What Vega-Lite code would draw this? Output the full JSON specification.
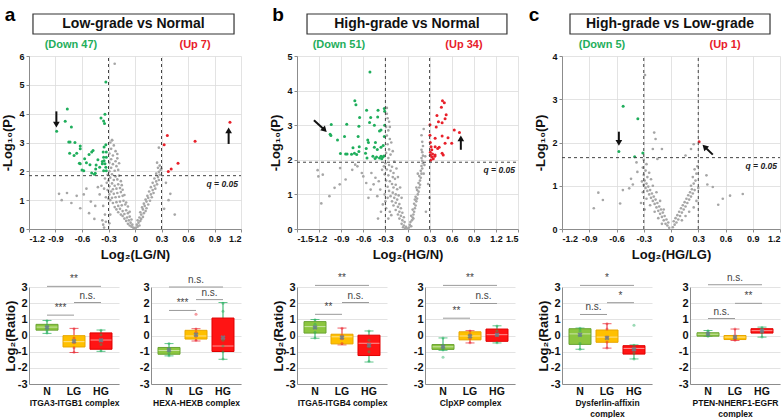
{
"$schema":"https://vega.github.io/schema/vega-lite/v6.json",
"background":"white",
"padding":{"left":1,"top":5,"right":0,"bottom":0},
"spacing":27,
"config":{"view":{"stroke":null},"font":"Liberation Sans",
"axis":{"labelFont":"Liberation Sans","titleFont":"Liberation Sans","labelFontWeight":"bold","titleFontWeight":"bold","labelColor":"#111","titleColor":"#111","domainColor":"#8c8c8c","tickColor":"#8c8c8c","gridColor":"#dcdcdc","gridWidth":0.8,"labelOverlap":false,"labelBound":false},
"text":{"font":"Liberation Sans"}},
"datasets":{
"thr":[{"x":-0.3},{"x":0.3}],
"ga":[{"x":-0.01,"y":0.03},{"x":-0.02,"y":0.05},{"x":-0.04,"y":0.08},{"x":-0.06,"y":0.12},{"x":-0.03,"y":0.15},{"x":-0.08,"y":0.18},{"x":-0.05,"y":0.22},{"x":-0.1,"y":0.28},{"x":-0.07,"y":0.3},{"x":-0.04,"y":0.33},{"x":-0.12,"y":0.36},{"x":-0.09,"y":0.4},{"x":-0.06,"y":0.43},{"x":-0.14,"y":0.45},{"x":-0.16,"y":0.5},{"x":-0.12,"y":0.52},{"x":-0.08,"y":0.55},{"x":-0.19,"y":0.58},{"x":-0.14,"y":0.62},{"x":-0.1,"y":0.65},{"x":-0.06,"y":0.6},{"x":-0.21,"y":0.68},{"x":-0.17,"y":0.7},{"x":-0.23,"y":0.76},{"x":-0.19,"y":0.8},{"x":-0.15,"y":0.82},{"x":-0.11,"y":0.85},{"x":-0.08,"y":0.78},{"x":-0.25,"y":0.9},{"x":-0.21,"y":0.93},{"x":-0.17,"y":0.95},{"x":-0.13,"y":0.98},{"x":-0.28,"y":1.0},{"x":-0.1,"y":0.92},{"x":-0.3,"y":1.05},{"x":-0.26,"y":1.08},{"x":-0.22,"y":1.1},{"x":-0.18,"y":1.12},{"x":-0.14,"y":1.15},{"x":-0.29,"y":1.2},{"x":-0.24,"y":1.22},{"x":-0.2,"y":1.25},{"x":-0.16,"y":1.28},{"x":-0.12,"y":1.18},{"x":-0.27,"y":1.3},{"x":-0.31,"y":1.35},{"x":-0.25,"y":1.38},{"x":-0.21,"y":1.4},{"x":-0.17,"y":1.42},{"x":-0.14,"y":1.36},{"x":-0.29,"y":1.48},{"x":-0.23,"y":1.5},{"x":-0.19,"y":1.55},{"x":-0.15,"y":1.52},{"x":-0.26,"y":1.58},{"x":-0.32,"y":1.6},{"x":-0.3,"y":1.68},{"x":-0.24,"y":1.7},{"x":-0.2,"y":1.72},{"x":-0.16,"y":1.66},{"x":-0.28,"y":1.78},{"x":-0.22,"y":1.82},{"x":-0.18,"y":1.85},{"x":-0.26,"y":1.9},{"x":-0.31,"y":1.88},{"x":-0.29,"y":2.0},{"x":-0.23,"y":2.02},{"x":-0.19,"y":2.05},{"x":-0.27,"y":2.12},{"x":-0.21,"y":2.18},{"x":-0.25,"y":2.25},{"x":-0.29,"y":2.3},{"x":-0.22,"y":2.35},{"x":-0.18,"y":2.28},{"x":-0.27,"y":2.42},{"x":-0.2,"y":2.45},{"x":-0.25,"y":2.55},{"x":-0.29,"y":2.62},{"x":-0.22,"y":2.7},{"x":-0.27,"y":2.78},{"x":-0.24,"y":2.9},{"x":-0.28,"y":3.0},{"x":-0.26,"y":3.08},{"x":-0.2,"y":2.6},{"x":-0.34,"y":1.75},{"x":-0.35,"y":1.4},{"x":-0.33,"y":1.1},{"x":-0.36,"y":0.8},{"x":-0.34,"y":0.5},{"x":-0.33,"y":0.25},{"x":-0.38,"y":1.5},{"x":-0.4,"y":1.2},{"x":-0.37,"y":0.3},{"x":-0.36,"y":0.15},{"x":0.01,"y":0.04},{"x":0.03,"y":0.08},{"x":0.02,"y":0.15},{"x":0.05,"y":0.12},{"x":0.04,"y":0.22},{"x":0.06,"y":0.28},{"x":0.03,"y":0.3},{"x":0.07,"y":0.35},{"x":0.05,"y":0.4},{"x":0.09,"y":0.42},{"x":0.07,"y":0.5},{"x":0.1,"y":0.55},{"x":0.06,"y":0.58},{"x":0.12,"y":0.62},{"x":0.09,"y":0.68},{"x":0.08,"y":0.75},{"x":0.13,"y":0.72},{"x":0.11,"y":0.8},{"x":0.15,"y":0.85},{"x":0.1,"y":0.88},{"x":0.13,"y":0.95},{"x":0.17,"y":0.98},{"x":0.12,"y":1.02},{"x":0.15,"y":1.08},{"x":0.19,"y":1.1},{"x":0.14,"y":1.15},{"x":0.18,"y":1.2},{"x":0.21,"y":1.25},{"x":0.16,"y":1.3},{"x":0.2,"y":1.35},{"x":0.23,"y":1.4},{"x":0.18,"y":1.45},{"x":0.22,"y":1.5},{"x":0.25,"y":1.55},{"x":0.2,"y":1.6},{"x":0.24,"y":1.65},{"x":0.27,"y":1.7},{"x":0.22,"y":1.75},{"x":0.26,"y":1.8},{"x":0.28,"y":1.88},{"x":0.24,"y":1.92},{"x":0.27,"y":1.98},{"x":0.29,"y":2.05},{"x":0.26,"y":2.12},{"x":0.28,"y":2.2},{"x":0.25,"y":2.3},{"x":0.27,"y":2.82},{"x":0.3,"y":2.1},{"x":-0.23,"y":5.73},{"x":-0.26,"y":3.08},{"x":-0.86,"y":1.22},{"x":-0.83,"y":1.0},{"x":-0.77,"y":1.25},{"x":-0.72,"y":0.9},{"x":-0.66,"y":1.15},{"x":-0.58,"y":1.2},{"x":-0.5,"y":0.95},{"x":-0.52,"y":0.55},{"x":-0.45,"y":0.8},{"x":-0.62,"y":0.72},{"x":-0.42,"y":1.45},{"x":-0.46,"y":0.35},{"x":-0.55,"y":1.4},{"x":0.4,"y":1.22},{"x":0.38,"y":1.0},{"x":0.45,"y":0.5},{"x":0.35,"y":1.6},{"x":0.33,"y":0.7},{"x":-0.35,"y":0.05},{"x":-0.29,"y":0.2},{"x":-0.28,"y":0.5}],
"ca":[{"x":-0.887,"y":3.39,"c":"d"},{"x":-0.766,"y":4.16,"c":"d"},{"x":-0.79,"y":3.74,"c":"d"},{"x":-0.72,"y":3.54,"c":"d"},{"x":-0.75,"y":3.02,"c":"d"},{"x":-0.735,"y":3.02,"c":"d"},{"x":-0.74,"y":2.63,"c":"d"},{"x":-0.69,"y":2.55,"c":"d"},{"x":-0.66,"y":2.63,"c":"d"},{"x":-0.62,"y":2.88,"c":"d"},{"x":-0.62,"y":2.78,"c":"d"},{"x":-0.63,"y":2.28,"c":"d"},{"x":-0.62,"y":2.26,"c":"d"},{"x":-0.57,"y":2.44,"c":"d"},{"x":-0.58,"y":2.02,"c":"d"},{"x":-0.52,"y":2.58,"c":"d"},{"x":-0.49,"y":2.67,"c":"d"},{"x":-0.475,"y":2.72,"c":"d"},{"x":-0.51,"y":2.23,"c":"d"},{"x":-0.49,"y":1.94,"c":"d"},{"x":-0.46,"y":1.9,"c":"d"},{"x":-0.45,"y":1.93,"c":"d"},{"x":-0.445,"y":2.08,"c":"d"},{"x":-0.44,"y":2.22,"c":"d"},{"x":-0.42,"y":2.4,"c":"d"},{"x":-0.4,"y":2.14,"c":"d"},{"x":-0.385,"y":3.85,"c":"d"},{"x":-0.355,"y":3.75,"c":"d"},{"x":-0.34,"y":3.98,"c":"d"},{"x":-0.33,"y":5.1,"c":"d"},{"x":-0.345,"y":3.66,"c":"d"},{"x":-0.36,"y":2.67,"c":"d"},{"x":-0.355,"y":2.49,"c":"d"},{"x":-0.35,"y":2.37,"c":"d"},{"x":-0.34,"y":2.26,"c":"d"},{"x":-0.33,"y":2.92,"c":"d"},{"x":-0.37,"y":2.26,"c":"d"},{"x":-0.355,"y":2.02,"c":"d"},{"x":-0.33,"y":2.14,"c":"d"},{"x":-0.325,"y":2.02,"c":"d"},{"x":-0.37,"y":2.34,"c":"d"},{"x":-0.325,"y":2.49,"c":"d"},{"x":-0.325,"y":2.67,"c":"d"},{"x":-0.35,"y":2.84,"c":"d"},{"x":-0.6,"y":2.05,"c":"d"},{"x":-0.55,"y":2.3,"c":"d"},{"x":-0.68,"y":3.0,"c":"d"},{"x":0.33,"y":2.92,"c":"u"},{"x":0.366,"y":3.24,"c":"u"},{"x":0.377,"y":1.99,"c":"u"},{"x":0.41,"y":2.08,"c":"u"},{"x":0.487,"y":2.28,"c":"u"},{"x":0.68,"y":3.04,"c":"u"},{"x":1.075,"y":3.7,"c":"u"}],
"an_a":[{"k":"box","x":-1.155,"x2":1.121,"y":6.763,"y2":7.457},{"k":"title","x":-0.017,"y":7.11,"t":"Low-grade vs Normal"},{"k":"lab","c":"d","x":-0.725,"y":6.38,"t":"(Down 47)"},{"k":"lab","c":"u","x":0.68,"y":6.38,"t":"(Up 7)"},{"k":"letter","x":-1.415,"y":7.42,"t":"a"},{"k":"q","y":1.85}],
"ar_a":[{"x":-0.89,"y":4.08,"x2":-0.89,"y2":3.62,"d":"down"},{"x":1.06,"y":2.95,"x2":1.06,"y2":3.42,"d":"up"}],
"gb":[{"x":-0.28,"y":3.33},{"x":-0.27,"y":3.2},{"x":-0.25,"y":3.1},{"x":-0.29,"y":2.95},{"x":-0.26,"y":2.85},{"x":-0.28,"y":2.7},{"x":-0.24,"y":2.6},{"x":-0.27,"y":2.45},{"x":-0.25,"y":2.3},{"x":-0.29,"y":2.2},{"x":-0.23,"y":2.15},{"x":-0.26,"y":2.05},{"x":-0.3,"y":1.9},{"x":-0.25,"y":1.85},{"x":-0.21,"y":1.8},{"x":-0.28,"y":1.72},{"x":-0.23,"y":1.68},{"x":-0.19,"y":1.62},{"x":-0.31,"y":1.58},{"x":-0.26,"y":1.55},{"x":-0.2,"y":1.5},{"x":-0.17,"y":1.45},{"x":-0.29,"y":1.4},{"x":-0.24,"y":1.38},{"x":-0.21,"y":1.3},{"x":-0.16,"y":1.28},{"x":-0.27,"y":1.22},{"x":-0.19,"y":1.2},{"x":-0.14,"y":1.15},{"x":-0.25,"y":1.1},{"x":-0.2,"y":1.05},{"x":-0.16,"y":1.0},{"x":-0.12,"y":0.97},{"x":-0.23,"y":0.95},{"x":-0.18,"y":0.9},{"x":-0.14,"y":0.85},{"x":-0.21,"y":0.8},{"x":-0.16,"y":0.76},{"x":-0.11,"y":0.72},{"x":-0.19,"y":0.68},{"x":-0.13,"y":0.64},{"x":-0.09,"y":0.6},{"x":-0.16,"y":0.55},{"x":-0.11,"y":0.5},{"x":-0.07,"y":0.47},{"x":-0.13,"y":0.42},{"x":-0.09,"y":0.38},{"x":-0.05,"y":0.34},{"x":-0.11,"y":0.3},{"x":-0.07,"y":0.25},{"x":-0.04,"y":0.2},{"x":-0.08,"y":0.15},{"x":-0.05,"y":0.1},{"x":-0.02,"y":0.06},{"x":-0.03,"y":0.02},{"x":0.0,"y":0.01},{"x":-0.06,"y":0.05},{"x":-0.31,"y":1.0},{"x":-0.3,"y":0.8},{"x":-0.27,"y":0.9},{"x":-0.29,"y":0.6},{"x":-0.24,"y":0.5},{"x":-0.22,"y":0.4},{"x":-0.26,"y":0.3},{"x":-0.22,"y":2.5},{"x":-0.2,"y":2.25},{"x":-0.18,"y":1.95},{"x":-0.15,"y":1.75},{"x":-0.13,"y":1.5},{"x":-0.1,"y":1.2},{"x":-0.08,"y":0.9},{"x":-0.28,"y":3.5},{"x":-0.24,"y":2.95},{"x":0.02,"y":0.04},{"x":0.03,"y":0.12},{"x":0.05,"y":0.08},{"x":0.04,"y":0.2},{"x":0.06,"y":0.25},{"x":0.07,"y":0.33},{"x":0.05,"y":0.38},{"x":0.08,"y":0.42},{"x":0.09,"y":0.5},{"x":0.07,"y":0.56},{"x":0.1,"y":0.6},{"x":0.11,"y":0.68},{"x":0.09,"y":0.73},{"x":0.12,"y":0.8},{"x":0.13,"y":0.88},{"x":0.11,"y":0.93},{"x":0.14,"y":1.0},{"x":0.15,"y":1.08},{"x":0.13,"y":1.13},{"x":0.16,"y":1.2},{"x":0.17,"y":1.28},{"x":0.15,"y":1.33},{"x":0.17,"y":1.4},{"x":0.18,"y":1.48},{"x":0.16,"y":1.53},{"x":0.19,"y":1.6},{"x":0.18,"y":1.68},{"x":0.2,"y":1.75},{"x":0.19,"y":1.82},{"x":0.21,"y":1.9},{"x":0.2,"y":1.97},{"x":0.19,"y":2.05},{"x":0.21,"y":2.12},{"x":0.2,"y":2.22},{"x":0.19,"y":2.29},{"x":0.2,"y":2.52},{"x":0.19,"y":2.71},{"x":0.22,"y":2.89},{"x":0.21,"y":2.4},{"x":0.22,"y":1.6},{"x":0.14,"y":1.6},{"x":0.12,"y":1.2},{"x":0.1,"y":0.85},{"x":0.08,"y":0.3},{"x":0.23,"y":1.85},{"x":0.24,"y":2.1},{"x":-1.22,"y":1.7},{"x":-1.15,"y":1.57},{"x":-1.21,"y":1.52},{"x":-1.17,"y":0.74},{"x":-1.06,"y":0.95},{"x":-0.99,"y":1.19},{"x":-0.92,"y":1.29},{"x":-0.915,"y":1.76},{"x":-0.84,"y":1.43},{"x":-0.75,"y":1.71},{"x":-0.71,"y":1.86},{"x":-0.68,"y":1.81},{"x":-0.62,"y":1.62},{"x":-0.6,"y":1.52},{"x":-0.56,"y":1.33},{"x":-0.53,"y":0.9},{"x":-0.5,"y":1.14},{"x":-0.49,"y":1.62},{"x":-0.46,"y":1.29},{"x":-0.435,"y":1.48},{"x":-0.41,"y":0.95},{"x":-0.39,"y":1.38},{"x":-0.37,"y":1.14},{"x":-0.345,"y":1.71},{"x":-0.335,"y":0.71},{"x":-0.32,"y":1.81},{"x":-0.36,"y":0.5},{"x":-0.4,"y":0.3},{"x":0.25,"y":0.5},{"x":0.28,"y":1.3},{"x":0.3,"y":0.9}],
"cb":[{"x":-0.51,"y":4.54,"c":"d"},{"x":-0.715,"y":3.71,"c":"d"},{"x":-0.7,"y":3.59,"c":"d"},{"x":-0.555,"y":3.43,"c":"d"},{"x":-0.4,"y":3.43,"c":"d"},{"x":-0.315,"y":3.48,"c":"d"},{"x":-0.31,"y":3.4,"c":"d"},{"x":-0.65,"y":3.22,"c":"d"},{"x":-0.5,"y":3.22,"c":"d"},{"x":-0.405,"y":3.24,"c":"d"},{"x":-1.035,"y":3.02,"c":"d"},{"x":-0.825,"y":3.03,"c":"d"},{"x":-0.66,"y":2.97,"c":"d"},{"x":-0.515,"y":3.08,"c":"d"},{"x":-0.45,"y":3.0,"c":"d"},{"x":-0.31,"y":3.0,"c":"d"},{"x":-0.36,"y":2.86,"c":"d"},{"x":-0.38,"y":2.83,"c":"d"},{"x":-1.05,"y":2.74,"c":"d"},{"x":-1.04,"y":2.7,"c":"d"},{"x":-0.855,"y":2.67,"c":"d"},{"x":-0.67,"y":2.67,"c":"d"},{"x":-0.95,"y":2.57,"c":"d"},{"x":-0.54,"y":2.57,"c":"d"},{"x":-0.53,"y":2.5,"c":"d"},{"x":-0.435,"y":2.5,"c":"d"},{"x":-0.315,"y":2.67,"c":"d"},{"x":-0.33,"y":2.41,"c":"d"},{"x":-0.74,"y":2.35,"c":"d"},{"x":-0.655,"y":2.38,"c":"d"},{"x":-0.56,"y":2.33,"c":"d"},{"x":-0.45,"y":2.36,"c":"d"},{"x":-0.36,"y":2.36,"c":"d"},{"x":-0.41,"y":2.3,"c":"d"},{"x":-0.91,"y":2.18,"c":"d"},{"x":-0.84,"y":2.17,"c":"d"},{"x":-0.82,"y":2.17,"c":"d"},{"x":-0.76,"y":2.16,"c":"d"},{"x":-0.72,"y":2.19,"c":"d"},{"x":-0.69,"y":2.15,"c":"d"},{"x":-0.66,"y":2.24,"c":"d"},{"x":-0.57,"y":2.19,"c":"d"},{"x":-0.55,"y":2.05,"c":"d"},{"x":-0.47,"y":2.1,"c":"d"},{"x":-0.44,"y":2.04,"c":"d"},{"x":-0.42,"y":2.08,"c":"d"},{"x":-0.38,"y":2.05,"c":"d"},{"x":-0.36,"y":2.1,"c":"d"},{"x":-0.335,"y":2.08,"c":"d"},{"x":-0.32,"y":2.11,"c":"d"},{"x":-0.35,"y":2.03,"c":"d"},{"x":0.475,"y":3.71,"c":"u"},{"x":0.5,"y":3.65,"c":"u"},{"x":0.46,"y":3.52,"c":"u"},{"x":0.525,"y":3.3,"c":"u"},{"x":0.4,"y":3.28,"c":"u"},{"x":0.51,"y":3.19,"c":"u"},{"x":0.42,"y":3.1,"c":"u"},{"x":0.47,"y":3.07,"c":"u"},{"x":0.305,"y":3.01,"c":"u"},{"x":0.39,"y":2.95,"c":"u"},{"x":0.635,"y":2.86,"c":"u"},{"x":0.705,"y":2.79,"c":"u"},{"x":0.47,"y":2.69,"c":"u"},{"x":0.305,"y":2.71,"c":"u"},{"x":0.375,"y":2.62,"c":"u"},{"x":0.55,"y":2.64,"c":"u"},{"x":0.6,"y":2.48,"c":"u"},{"x":0.31,"y":2.5,"c":"u"},{"x":0.32,"y":2.38,"c":"u"},{"x":0.375,"y":2.38,"c":"u"},{"x":0.41,"y":2.33,"c":"u"},{"x":0.43,"y":2.36,"c":"u"},{"x":0.51,"y":2.48,"c":"u"},{"x":0.33,"y":2.29,"c":"u"},{"x":0.31,"y":2.22,"c":"u"},{"x":0.34,"y":2.17,"c":"u"},{"x":0.47,"y":2.19,"c":"u"},{"x":0.485,"y":2.14,"c":"u"},{"x":0.31,"y":2.13,"c":"u"},{"x":0.33,"y":2.08,"c":"u"},{"x":0.37,"y":2.1,"c":"u"},{"x":0.315,"y":1.99,"c":"u"},{"x":0.35,"y":2.03,"c":"u"},{"x":0.375,"y":2.14,"c":"u"}],
"an_b":[{"k":"box","x":-1.364,"x2":1.35,"y":5.636,"y2":6.214},{"k":"title","x":-0.007,"y":5.925,"t":"High-grade vs Normal"},{"k":"lab","c":"d","x":-0.93,"y":5.318,"t":"(Down 51)"},{"k":"lab","c":"u","x":0.767,"y":5.318,"t":"(Up 34)"},{"k":"letter","x":-1.758,"y":6.185,"t":"b"},{"k":"q","y":1.93}],
"ar_b":[{"x":-1.27,"y":3.14,"x2":-1.125,"y2":2.86,"d":"dr"},{"x":0.724,"y":2.29,"x2":0.724,"y2":2.62,"d":"up"}],
"gc":[{"x":-0.02,"y":0.03},{"x":-0.04,"y":0.08},{"x":-0.03,"y":0.15},{"x":-0.06,"y":0.12},{"x":-0.05,"y":0.22},{"x":-0.08,"y":0.2},{"x":-0.07,"y":0.3},{"x":-0.1,"y":0.28},{"x":-0.09,"y":0.38},{"x":-0.12,"y":0.35},{"x":-0.11,"y":0.45},{"x":-0.14,"y":0.42},{"x":-0.13,"y":0.52},{"x":-0.16,"y":0.5},{"x":-0.15,"y":0.6},{"x":-0.18,"y":0.58},{"x":-0.17,"y":0.68},{"x":-0.2,"y":0.65},{"x":-0.19,"y":0.75},{"x":-0.22,"y":0.72},{"x":-0.21,"y":0.82},{"x":-0.24,"y":0.8},{"x":-0.23,"y":0.9},{"x":-0.26,"y":0.88},{"x":-0.25,"y":0.98},{"x":-0.28,"y":0.95},{"x":-0.27,"y":1.05},{"x":-0.3,"y":1.02},{"x":-0.29,"y":1.12},{"x":-0.32,"y":1.1},{"x":-0.26,"y":1.2},{"x":-0.3,"y":1.25},{"x":-0.28,"y":1.35},{"x":-0.31,"y":1.42},{"x":-0.27,"y":1.5},{"x":-0.3,"y":1.6},{"x":-0.24,"y":1.3},{"x":-0.22,"y":1.15},{"x":-0.2,"y":1.0},{"x":-0.16,"y":0.85},{"x":-0.12,"y":0.65},{"x":-0.08,"y":0.45},{"x":-0.18,"y":0.4},{"x":-0.14,"y":0.25},{"x":-0.1,"y":0.12},{"x":-0.23,"y":0.55},{"x":-0.27,"y":0.7},{"x":-0.31,"y":0.85},{"x":-0.33,"y":0.6},{"x":-0.29,"y":0.45},{"x":0.02,"y":0.04},{"x":0.04,"y":0.1},{"x":0.03,"y":0.18},{"x":0.06,"y":0.15},{"x":0.05,"y":0.25},{"x":0.08,"y":0.22},{"x":0.07,"y":0.32},{"x":0.1,"y":0.3},{"x":0.09,"y":0.4},{"x":0.12,"y":0.38},{"x":0.11,"y":0.48},{"x":0.14,"y":0.45},{"x":0.13,"y":0.55},{"x":0.16,"y":0.52},{"x":0.15,"y":0.62},{"x":0.18,"y":0.6},{"x":0.17,"y":0.7},{"x":0.2,"y":0.68},{"x":0.19,"y":0.78},{"x":0.22,"y":0.75},{"x":0.21,"y":0.85},{"x":0.24,"y":0.82},{"x":0.23,"y":0.92},{"x":0.26,"y":0.9},{"x":0.22,"y":1.0},{"x":0.25,"y":1.05},{"x":0.27,"y":1.12},{"x":0.24,"y":1.2},{"x":0.28,"y":1.28},{"x":0.26,"y":1.38},{"x":0.29,"y":1.45},{"x":0.3,"y":0.95},{"x":0.28,"y":0.65},{"x":0.25,"y":0.5},{"x":0.2,"y":0.4},{"x":0.16,"y":0.3},{"x":0.12,"y":0.2},{"x":-0.286,"y":3.56},{"x":-0.185,"y":2.23},{"x":-0.17,"y":2.08},{"x":-0.2,"y":1.85},{"x":-0.1,"y":1.85},{"x":0.22,"y":1.85},{"x":0.25,"y":1.96},{"x":0.16,"y":1.7},{"x":-0.15,"y":1.62},{"x":-0.8,"y":0.84},{"x":-0.75,"y":0.67},{"x":-0.85,"y":0.48},{"x":-0.56,"y":0.59},{"x":-0.53,"y":0.9},{"x":-0.46,"y":0.94},{"x":-0.42,"y":1.03},{"x":-0.44,"y":1.16},{"x":-0.37,"y":1.32},{"x":-0.38,"y":1.54},{"x":0.39,"y":1.24},{"x":0.4,"y":1.03},{"x":0.46,"y":0.97},{"x":0.52,"y":0.56},{"x":0.65,"y":0.77},{"x":0.79,"y":0.81},{"x":0.57,"y":0.7}],
"cc":[{"x":-0.527,"y":2.84,"c":"d"},{"x":-0.365,"y":2.55,"c":"d"},{"x":-0.574,"y":1.79,"c":"d"},{"x":-0.4,"y":1.67,"c":"d"},{"x":-0.31,"y":1.76,"c":"d"},{"x":0.31,"y":2.02,"c":"u"}],
"an_c":[{"k":"box","x":-1.112,"x2":1.09,"y":4.509,"y2":4.971},{"k":"title","x":-0.011,"y":4.74,"t":"High-grade vs Low-grade"},{"k":"lab","c":"d","x":-0.76,"y":4.254,"t":"(Down 5)"},{"k":"lab","c":"u","x":0.595,"y":4.254,"t":"(Up 1)"},{"k":"letter","x":-1.508,"y":4.948,"t":"c"},{"k":"q","y":1.65}],
"ar_c":[{"x":-0.574,"y":2.25,"x2":-0.574,"y2":1.99,"d":"down"},{"x":0.46,"y":1.72,"x2":0.37,"y2":1.9,"d":"ul"}],
"s_a1":[{"g":"N","lo":0.13,"q1":0.33,"med":0.52,"q3":0.69,"hi":0.93,"mean":0.5},{"g":"LG","lo":-1.05,"q1":-0.71,"med":-0.38,"q3":-0.01,"hi":0.44,"mean":-0.35},{"g":"HG","lo":-0.98,"q1":-0.85,"med":-0.28,"q3":0.16,"hi":0.34,"mean":-0.3}],
"d_a1":[{"g":"N","v":0.92},{"g":"N","v":0.62},{"g":"N","v":0.45},{"g":"N","v":0.3},{"g":"N","v":0.15},{"g":"LG","v":0.42},{"g":"LG","v":-0.15},{"g":"LG","v":-0.45},{"g":"LG","v":-0.75},{"g":"LG","v":-1.03},{"g":"HG","v":0.33},{"g":"HG","v":0.05},{"g":"HG","v":-0.3},{"g":"HG","v":-0.55},{"g":"HG","v":-0.95}],
"k_a1":[{"a":"N","b":"HG","y":3.04,"t":"**","m":"LG","w":1},{"a":"LG","b":"HG","y":2.04,"t":"n.s.","m":"HG","w":0},{"a":"N","b":"LG","y":1.26,"t":"***","m":"LG","w":0}],
"s_a2":[{"g":"N","lo":-1.26,"q1":-1.16,"med":-0.93,"q3":-0.74,"hi":-0.5,"mean":-0.9},{"g":"LG","lo":-0.34,"q1":-0.22,"med":-0.03,"q3":0.32,"hi":0.42,"mean":0.05},{"g":"HG","lo":-1.47,"q1":-0.99,"med":-0.65,"q3":1.08,"hi":2.04,"mean":-0.13}],
"d_a2":[{"g":"N","v":-0.5},{"g":"N","v":-0.8},{"g":"N","v":-0.95},{"g":"N","v":-1.1},{"g":"N","v":-1.25},{"g":"LG","v":1.32},{"g":"LG","v":0.4},{"g":"LG","v":0.2},{"g":"LG","v":-0.05},{"g":"LG","v":-0.3},{"g":"HG","v":2.0},{"g":"HG","v":1.5},{"g":"HG","v":-0.3},{"g":"HG","v":-0.65},{"g":"HG","v":-1.0},{"g":"HG","v":-1.45}],
"k_a2":[{"a":"N","b":"HG","y":3.0,"t":"n.s.","m":"LG","w":1},{"a":"LG","b":"HG","y":2.22,"t":"n.s.","m":"HG","w":0},{"a":"N","b":"LG","y":1.55,"t":"***","m":"LG","w":0}],
"s_b1":[{"g":"N","lo":-0.17,"q1":0.15,"med":0.55,"q3":0.86,"hi":0.99,"mean":0.5},{"g":"LG","lo":-0.58,"q1":-0.52,"med":-0.08,"q3":0.08,"hi":0.46,"mean":-0.12},{"g":"HG","lo":-1.64,"q1":-1.24,"med":-0.48,"q3":0.02,"hi":0.28,"mean":-0.6}],
"d_b1":[{"g":"N","v":0.98},{"g":"N","v":0.7},{"g":"N","v":0.5},{"g":"N","v":0.2},{"g":"N","v":-0.15},{"g":"LG","v":0.45},{"g":"LG","v":0.0},{"g":"LG","v":-0.2},{"g":"LG","v":-0.5},{"g":"HG","v":0.28},{"g":"HG","v":-0.3},{"g":"HG","v":-0.7},{"g":"HG","v":-1.0},{"g":"HG","v":-1.6}],
"k_b1":[{"a":"N","b":"HG","y":3.1,"t":"**","m":"LG","w":1},{"a":"LG","b":"HG","y":2.04,"t":"n.s.","m":"HG","w":0},{"a":"N","b":"LG","y":1.31,"t":"**","m":"LG","w":0}],
"s_b2":[{"g":"N","lo":-0.92,"q1":-0.86,"med":-0.7,"q3":-0.56,"hi":-0.15,"mean":-0.7},{"g":"LG","lo":-0.46,"q1":-0.27,"med":-0.03,"q3":0.23,"hi":0.3,"mean":-0.05},{"g":"HG","lo":-0.46,"q1":-0.36,"med":0.05,"q3":0.4,"hi":0.6,"mean":0.05}],
"d_b2":[{"g":"N","v":-0.15},{"g":"N","v":-0.6},{"g":"N","v":-0.75},{"g":"N","v":-0.9},{"g":"N","v":-1.35},{"g":"LG","v":0.28},{"g":"LG","v":0.1},{"g":"LG","v":-0.2},{"g":"LG","v":-0.45},{"g":"HG","v":0.58},{"g":"HG","v":0.3},{"g":"HG","v":0.0},{"g":"HG","v":-0.45}],
"k_b2":[{"a":"N","b":"HG","y":3.1,"t":"**","m":"LG","w":1},{"a":"LG","b":"HG","y":1.98,"t":"n.s.","m":"HG","w":0},{"a":"N","b":"LG","y":1.07,"t":"**","m":"LG","w":0}],
"s_c1":[{"g":"N","lo":-0.85,"q1":-0.55,"med":0.1,"q3":0.42,"hi":0.46,"mean":0.05},{"g":"LG","lo":-0.78,"q1":-0.42,"med":-0.1,"q3":0.34,"hi":0.73,"mean":-0.15},{"g":"HG","lo":-1.45,"q1":-1.15,"med":-0.8,"q3":-0.63,"hi":-0.58,"mean":-0.85}],
"d_c1":[{"g":"N","v":0.45},{"g":"N","v":0.3},{"g":"N","v":0.0},{"g":"N","v":-0.5},{"g":"N","v":-0.85},{"g":"LG","v":0.72},{"g":"LG","v":0.4},{"g":"LG","v":-0.1},{"g":"LG","v":-0.4},{"g":"LG","v":-0.78},{"g":"HG","v":0.63},{"g":"HG","v":-0.6},{"g":"HG","v":-0.9},{"g":"HG","v":-1.1},{"g":"HG","v":-1.45}],
"k_c1":[{"a":"N","b":"HG","y":3.1,"t":"*","m":"LG","w":1},{"a":"LG","b":"HG","y":2.03,"t":"*","m":"HG","w":0},{"a":"N","b":"LG","y":1.3,"t":"n.s.","m":"LG","w":0}],
"s_c2":[{"g":"N","lo":-0.05,"q1":-0.04,"med":0.08,"q3":0.17,"hi":0.31,"mean":0.1},{"g":"LG","lo":-0.31,"q1":-0.25,"med":-0.1,"q3":0.0,"hi":0.4,"mean":-0.1},{"g":"HG","lo":-0.1,"q1":0.15,"med":0.3,"q3":0.42,"hi":0.52,"mean":0.3}],
"d_c2":[{"g":"N","v":0.3},{"g":"N","v":0.15},{"g":"N","v":0.05},{"g":"N","v":-0.05},{"g":"LG","v":0.4},{"g":"LG","v":-0.05},{"g":"LG","v":-0.2},{"g":"LG","v":-0.3},{"g":"HG","v":0.5},{"g":"HG","v":0.35},{"g":"HG","v":0.2},{"g":"HG","v":-0.1}],
"k_c2":[{"a":"N","b":"HG","y":3.14,"t":"n.s.","m":"LG","w":1},{"a":"LG","b":"HG","y":1.99,"t":"**","m":"HG","w":0},{"a":"N","b":"LG","y":1.05,"t":"n.s.","m":"LG","w":0}]
},
"hconcat":[
{"vconcat":[
{"width":212,"height":173,"layer":[
{"data":{"name":"ga"},"mark":{"type":"circle","size":7,"color":"#a6a6a6","opacity":1},"encoding":{
"x":{"field":"x","type":"quantitative","scale":{"domain":[-1.2,1.2],"nice":false,"zero":false},"axis":{"values":[-1.2,-0.9,-0.6,-0.3,0,0.3,0.6,0.9,1.2],"tickCount":30,"format":".1~f","labelExpr":"replace(datum.label,'−','-')","title":"Log₂(LG/N)","labelFontSize":9,"titleFontSize":13,"tickSize":3,"grid":true,"titlePadding":5,"labelOverlap":false}},
"y":{"field":"y","type":"quantitative","scale":{"domain":[0,6],"nice":false},"axis":{"values":[0,1,2,3,4,5,6],"tickCount":30,"format":"d","title":"-Log₁₀(P)","labelFontSize":9,"titleFontSize":13,"tickSize":3,"grid":true,"titlePadding":4,"labelOverlap":false}}}},
{"data":{"name":"ca"},"mark":{"type":"circle","size":9,"opacity":1},"encoding":{"x":{"field":"x","type":"quantitative"},"y":{"field":"y","type":"quantitative"},"color":{"field":"c","type":"nominal","scale":{"domain":["d","u"],"range":["#1fae5c","#e8202a"]},"legend":null}}},
{"data":{"name":"thr"},"mark":{"type":"rule","strokeDash":[3,3],"color":"#444","strokeWidth":1},"encoding":{"x":{"field":"x","type":"quantitative"},"y":{"datum":0,"type":"quantitative"},"y2":{"datum":6}}},
{"data":{"name":"an_a"},"transform":[{"filter":"datum.k=='q'"}],"mark":{"type":"rule","strokeDash":[3,3],"color":"#444","strokeWidth":1},"encoding":{"y":{"field":"y","type":"quantitative"},"x":{"datum":-1.2,"type":"quantitative"},"x2":{"datum":1.2}}},
{"data":{"name":"an_a"},"transform":[{"filter":"datum.k=='q'"}],"mark":{"type":"text","text":"q = 0.05","align":"right","baseline":"top","dx":-3,"dy":4,"fontStyle":"italic","fontWeight":"bold","fontSize":8.5,"color":"#222"},"encoding":{"y":{"field":"y","type":"quantitative"},"x":{"datum":1.2,"type":"quantitative"}}},
{"data":{"name":"an_a"},"transform":[{"filter":"datum.k=='box'"}],"mark":{"type":"rect","fill":"white","stroke":"#333","strokeWidth":1.2},"encoding":{"x":{"field":"x","type":"quantitative"},"x2":{"field":"x2"},"y":{"field":"y","type":"quantitative"},"y2":{"field":"y2"}}},
{"data":{"name":"an_a"},"transform":[{"filter":"datum.k=='title'"}],"mark":{"type":"text","fontSize":14,"fontWeight":"bold","color":"#111"},"encoding":{"x":{"field":"x","type":"quantitative"},"y":{"field":"y","type":"quantitative"},"text":{"field":"t"}}},
{"data":{"name":"an_a"},"transform":[{"filter":"datum.k=='lab'"}],"mark":{"type":"text","fontSize":11,"fontWeight":"bold"},"encoding":{"x":{"field":"x","type":"quantitative"},"y":{"field":"y","type":"quantitative"},"text":{"field":"t"},"color":{"field":"c","type":"nominal","legend":null}}},
{"data":{"name":"an_a"},"transform":[{"filter":"datum.k=='letter'"}],"mark":{"type":"text","fontSize":19,"fontWeight":"bold","color":"#000"},"encoding":{"x":{"field":"x","type":"quantitative"},"y":{"field":"y","type":"quantitative"},"text":{"field":"t"}}},
{"data":{"name":"ar_a"},"mark":{"type":"rule","strokeWidth":2,"color":"#111"},"encoding":{"x":{"field":"x","type":"quantitative"},"y":{"field":"y","type":"quantitative"},"x2":{"field":"x2"},"y2":{"field":"y2"}}},
{"data":{"name":"ar_a"},"transform":[{"filter":"datum.d=='down'"}],"mark":{"type":"point","shape":"triangle-down","filled":true,"size":45,"color":"#111","opacity":1},"encoding":{"x":{"field":"x2","type":"quantitative"},"y":{"field":"y2","type":"quantitative"}}},
{"data":{"name":"ar_a"},"transform":[{"filter":"datum.d=='up'"}],"mark":{"type":"point","shape":"triangle-up","filled":true,"size":45,"color":"#111","opacity":1},"encoding":{"x":{"field":"x2","type":"quantitative"},"y":{"field":"y2","type":"quantitative"}}}
]},
{"hconcat":[
{"width":90,"height":97,"layer":[
{"data":{"name":"s_a1"},"mark":{"type":"rule","strokeWidth":1},"encoding":{"x":{"field":"g","type":"nominal","scale":{"domain":["N","LG","HG"],"paddingInner":0,"paddingOuter":0.1667},"axis":{"title":"ITGA3-ITGB1 complex","labelAngle":0,"labelFontSize":10.5,"titleFontSize":8.5,"ticks":false,"labelPadding":2,"titlePadding":2,"labelOverlap":false}},"y":{"field":"lo","type":"quantitative","scale":{"domain":[-3,3],"nice":false},"axis":{"values":[-3,-2,-1,0,1,2,3],"tickCount":30,"format":"d","labelExpr":"replace(datum.label,'−','-')","title":"Log₂(Ratio)","labelFontSize":11,"titleFontSize":13,"ticks":false,"grid":true,"labelPadding":2,"titlePadding":0,"labelOverlap":false}},"y2":{"field":"hi"},"color":{"field":"g","type":"nominal","scale":{"domain":["N","LG","HG"],"range":["#7a9f8a","#e0a31a","#b8a0a0"]},"legend":null}}},
{"data":{"name":"s_a1"},"mark":{"type":"tick","size":9,"thickness":1},"encoding":{"x":{"field":"g","type":"nominal"},"y":{"field":"lo","type":"quantitative"},"color":{"field":"g","type":"nominal","legend":null}}},
{"data":{"name":"s_a1"},"mark":{"type":"tick","size":9,"thickness":1},"encoding":{"x":{"field":"g","type":"nominal"},"y":{"field":"hi","type":"quantitative"},"color":{"field":"g","type":"nominal","legend":null}}},
{"data":{"name":"s_a1"},"mark":{"type":"bar","width":22,"strokeWidth":1},"encoding":{"x":{"field":"g","type":"nominal"},"y":{"field":"q1","type":"quantitative"},"y2":{"field":"q3"},"fill":{"field":"g","type":"nominal","scale":{"domain":["N","LG","HG"],"range":["#8cc63f","#ffc000","#ff1414"]},"legend":null},"stroke":{"field":"g","type":"nominal","scale":{"domain":["N","LG","HG"],"range":["#6aa332","#e8a600","#e00000"]},"legend":null}}},
{"data":{"name":"s_a1"},"mark":{"type":"tick","size":21,"thickness":1,"color":"#ffffff","opacity":0.55},"encoding":{"x":{"field":"g","type":"nominal"},"y":{"field":"med","type":"quantitative"}}},
{"data":{"name":"d_a1"},"mark":{"type":"circle","size":9,"opacity":0.45},"encoding":{"x":{"field":"g","type":"nominal"},"y":{"field":"v","type":"quantitative"},"color":{"field":"g","type":"nominal","legend":null}}},
{"data":{"name":"s_a1"},"mark":{"type":"point","shape":"cross","angle":45,"filled":true,"size":26,"color":"#6a7d8c","opacity":0.85},"encoding":{"x":{"field":"g","type":"nominal"},"y":{"field":"mean","type":"quantitative"}}},
{"data":{"name":"k_a1"},"mark":{"type":"rule","color":"#9a9a9a","strokeWidth":1},"encoding":{"x":{"field":"a","type":"nominal"},"x2":{"field":"b"},"y":{"field":"y","type":"quantitative"}}},
{"data":{"name":"k_a1"},"transform":[{"filter":"datum.w==1"}],"mark":{"type":"text","baseline":"bottom","dy":-2,"fontSize":10,"color":"#444"},"encoding":{"x":{"field":"m","type":"nominal"},"y":{"field":"y","type":"quantitative"},"text":{"field":"t"}}},
{"data":{"name":"k_a1"},"transform":[{"filter":"datum.w==0"}],"mark":{"type":"text","baseline":"bottom","dy":-2,"fontSize":10,"color":"#444"},"encoding":{"x":{"field":"m","type":"nominal","bandPosition":0},"y":{"field":"y","type":"quantitative"},"text":{"field":"t"}}}
]},
{"width":90,"height":97,"layer":[
{"data":{"name":"s_a2"},"mark":{"type":"rule","strokeWidth":1},"encoding":{"x":{"field":"g","type":"nominal","scale":{"domain":["N","LG","HG"],"paddingInner":0,"paddingOuter":0.1667},"axis":{"title":"HEXA-HEXB complex","labelAngle":0,"labelFontSize":10.5,"titleFontSize":8.5,"ticks":false,"labelPadding":2,"titlePadding":2,"labelOverlap":false}},"y":{"field":"lo","type":"quantitative","scale":{"domain":[-3,3],"nice":false},"axis":{"values":[-3,-2,-1,0,1,2,3],"tickCount":30,"format":"d","labelExpr":"replace(datum.label,'−','-')","title":"","labelFontSize":11,"ticks":false,"grid":true,"labelPadding":2,"labelOverlap":false}},"y2":{"field":"hi"},"color":{"field":"g","type":"nominal","scale":{"domain":["N","LG","HG"],"range":["#7a9f8a","#e0a31a","#b8a0a0"]},"legend":null}}},
{"data":{"name":"s_a2"},"mark":{"type":"tick","size":9,"thickness":1},"encoding":{"x":{"field":"g","type":"nominal"},"y":{"field":"lo","type":"quantitative"},"color":{"field":"g","type":"nominal","legend":null}}},
{"data":{"name":"s_a2"},"mark":{"type":"tick","size":9,"thickness":1},"encoding":{"x":{"field":"g","type":"nominal"},"y":{"field":"hi","type":"quantitative"},"color":{"field":"g","type":"nominal","legend":null}}},
{"data":{"name":"s_a2"},"mark":{"type":"bar","width":22,"strokeWidth":1},"encoding":{"x":{"field":"g","type":"nominal"},"y":{"field":"q1","type":"quantitative"},"y2":{"field":"q3"},"fill":{"field":"g","type":"nominal","scale":{"domain":["N","LG","HG"],"range":["#8cc63f","#ffc000","#ff1414"]},"legend":null},"stroke":{"field":"g","type":"nominal","scale":{"domain":["N","LG","HG"],"range":["#6aa332","#e8a600","#e00000"]},"legend":null}}},
{"data":{"name":"s_a2"},"mark":{"type":"tick","size":21,"thickness":1,"color":"#ffffff","opacity":0.55},"encoding":{"x":{"field":"g","type":"nominal"},"y":{"field":"med","type":"quantitative"}}},
{"data":{"name":"d_a2"},"mark":{"type":"circle","size":9,"opacity":0.45},"encoding":{"x":{"field":"g","type":"nominal"},"y":{"field":"v","type":"quantitative"},"color":{"field":"g","type":"nominal","legend":null}}},
{"data":{"name":"s_a2"},"mark":{"type":"point","shape":"cross","angle":45,"filled":true,"size":26,"color":"#6a7d8c","opacity":0.85},"encoding":{"x":{"field":"g","type":"nominal"},"y":{"field":"mean","type":"quantitative"}}},
{"data":{"name":"k_a2"},"mark":{"type":"rule","color":"#9a9a9a","strokeWidth":1},"encoding":{"x":{"field":"a","type":"nominal"},"x2":{"field":"b"},"y":{"field":"y","type":"quantitative"}}},
{"data":{"name":"k_a2"},"transform":[{"filter":"datum.w==1"}],"mark":{"type":"text","baseline":"bottom","dy":-2,"fontSize":10,"color":"#444"},"encoding":{"x":{"field":"m","type":"nominal"},"y":{"field":"y","type":"quantitative"},"text":{"field":"t"}}},
{"data":{"name":"k_a2"},"transform":[{"filter":"datum.w==0"}],"mark":{"type":"text","baseline":"bottom","dy":-2,"fontSize":10,"color":"#444"},"encoding":{"x":{"field":"m","type":"nominal","bandPosition":0},"y":{"field":"y","type":"quantitative"},"text":{"field":"t"}}}
]}
],"spacing":32,"bounds":"flush"}
],"spacing":58,"bounds":"flush"},
{"hconcat":[
{"vconcat":[
{"width":221,"height":173,"layer":[
{"data":{"name":"gb"},"mark":{"type":"circle","size":7,"color":"#a6a6a6","opacity":1},"encoding":{
"x":{"field":"x","type":"quantitative","scale":{"domain":[-1.5,1.5],"nice":false,"zero":false},"axis":{"values":[-1.5,-1.2,-0.9,-0.6,-0.3,0,0.3,0.6,0.9,1.2,1.5],"tickCount":30,"format":".1~f","labelExpr":"replace(datum.label,'−','-')","title":"Log₂(HG/N)","labelFontSize":9,"titleFontSize":13,"tickSize":3,"grid":true,"titlePadding":5,"labelOverlap":false}},
"y":{"field":"y","type":"quantitative","scale":{"domain":[0,5],"nice":false},"axis":{"values":[0,1,2,3,4,5],"tickCount":30,"format":"d","title":"-Log₁₀(P)","labelFontSize":9,"titleFontSize":13,"tickSize":3,"grid":true,"titlePadding":4,"labelOverlap":false}}}},
{"data":{"name":"cb"},"mark":{"type":"circle","size":9,"opacity":1},"encoding":{"x":{"field":"x","type":"quantitative"},"y":{"field":"y","type":"quantitative"},"color":{"field":"c","type":"nominal","scale":{"domain":["d","u"],"range":["#1fae5c","#e8202a"]},"legend":null}}},
{"data":{"name":"thr"},"mark":{"type":"rule","strokeDash":[3,3],"color":"#444","strokeWidth":1},"encoding":{"x":{"field":"x","type":"quantitative"},"y":{"datum":0,"type":"quantitative"},"y2":{"datum":5}}},
{"data":{"name":"an_b"},"transform":[{"filter":"datum.k=='q'"}],"mark":{"type":"rule","strokeDash":[3,3],"color":"#444","strokeWidth":1},"encoding":{"y":{"field":"y","type":"quantitative"},"x":{"datum":-1.5,"type":"quantitative"},"x2":{"datum":1.5}}},
{"data":{"name":"an_b"},"transform":[{"filter":"datum.k=='q'"}],"mark":{"type":"text","text":"q = 0.05","align":"right","baseline":"top","dx":-3,"dy":4,"fontStyle":"italic","fontWeight":"bold","fontSize":8.5,"color":"#222"},"encoding":{"y":{"field":"y","type":"quantitative"},"x":{"datum":1.5,"type":"quantitative"}}},
{"data":{"name":"an_b"},"transform":[{"filter":"datum.k=='box'"}],"mark":{"type":"rect","fill":"white","stroke":"#333","strokeWidth":1.2},"encoding":{"x":{"field":"x","type":"quantitative"},"x2":{"field":"x2"},"y":{"field":"y","type":"quantitative"},"y2":{"field":"y2"}}},
{"data":{"name":"an_b"},"transform":[{"filter":"datum.k=='title'"}],"mark":{"type":"text","fontSize":14,"fontWeight":"bold","color":"#111"},"encoding":{"x":{"field":"x","type":"quantitative"},"y":{"field":"y","type":"quantitative"},"text":{"field":"t"}}},
{"data":{"name":"an_b"},"transform":[{"filter":"datum.k=='lab'"}],"mark":{"type":"text","fontSize":11,"fontWeight":"bold"},"encoding":{"x":{"field":"x","type":"quantitative"},"y":{"field":"y","type":"quantitative"},"text":{"field":"t"},"color":{"field":"c","type":"nominal","legend":null}}},
{"data":{"name":"an_b"},"transform":[{"filter":"datum.k=='letter'"}],"mark":{"type":"text","fontSize":19,"fontWeight":"bold","color":"#000"},"encoding":{"x":{"field":"x","type":"quantitative"},"y":{"field":"y","type":"quantitative"},"text":{"field":"t"}}},
{"data":{"name":"ar_b"},"mark":{"type":"rule","strokeWidth":2,"color":"#111"},"encoding":{"x":{"field":"x","type":"quantitative"},"y":{"field":"y","type":"quantitative"},"x2":{"field":"x2"},"y2":{"field":"y2"}}},
{"data":{"name":"ar_b"},"transform":[{"filter":"datum.d=='dr'"}],"mark":{"type":"point","shape":"triangle-up","angle":135,"filled":true,"size":45,"color":"#111","opacity":1},"encoding":{"x":{"field":"x2","type":"quantitative"},"y":{"field":"y2","type":"quantitative"}}},
{"data":{"name":"ar_b"},"transform":[{"filter":"datum.d=='up'"}],"mark":{"type":"point","shape":"triangle-up","filled":true,"size":45,"color":"#111","opacity":1},"encoding":{"x":{"field":"x2","type":"quantitative"},"y":{"field":"y2","type":"quantitative"}}}
]},
{"hconcat":[
{"width":90,"height":97,"layer":[
{"data":{"name":"s_b1"},"mark":{"type":"rule","strokeWidth":1},"encoding":{"x":{"field":"g","type":"nominal","scale":{"domain":["N","LG","HG"],"paddingInner":0,"paddingOuter":0.1667},"axis":{"title":"ITGA5-ITGB4 complex","labelAngle":0,"labelFontSize":10.5,"titleFontSize":8.5,"ticks":false,"labelPadding":2,"titlePadding":2,"labelOverlap":false}},"y":{"field":"lo","type":"quantitative","scale":{"domain":[-3,3],"nice":false},"axis":{"values":[-3,-2,-1,0,1,2,3],"tickCount":30,"format":"d","labelExpr":"replace(datum.label,'−','-')","title":"Log₂(Ratio)","labelFontSize":11,"titleFontSize":13,"ticks":false,"grid":true,"labelPadding":2,"titlePadding":0,"labelOverlap":false}},"y2":{"field":"hi"},"color":{"field":"g","type":"nominal","scale":{"domain":["N","LG","HG"],"range":["#7a9f8a","#e0a31a","#b8a0a0"]},"legend":null}}},
{"data":{"name":"s_b1"},"mark":{"type":"tick","size":9,"thickness":1},"encoding":{"x":{"field":"g","type":"nominal"},"y":{"field":"lo","type":"quantitative"},"color":{"field":"g","type":"nominal","legend":null}}},
{"data":{"name":"s_b1"},"mark":{"type":"tick","size":9,"thickness":1},"encoding":{"x":{"field":"g","type":"nominal"},"y":{"field":"hi","type":"quantitative"},"color":{"field":"g","type":"nominal","legend":null}}},
{"data":{"name":"s_b1"},"mark":{"type":"bar","width":22,"strokeWidth":1},"encoding":{"x":{"field":"g","type":"nominal"},"y":{"field":"q1","type":"quantitative"},"y2":{"field":"q3"},"fill":{"field":"g","type":"nominal","scale":{"domain":["N","LG","HG"],"range":["#8cc63f","#ffc000","#ff1414"]},"legend":null},"stroke":{"field":"g","type":"nominal","scale":{"domain":["N","LG","HG"],"range":["#6aa332","#e8a600","#e00000"]},"legend":null}}},
{"data":{"name":"s_b1"},"mark":{"type":"tick","size":21,"thickness":1,"color":"#ffffff","opacity":0.55},"encoding":{"x":{"field":"g","type":"nominal"},"y":{"field":"med","type":"quantitative"}}},
{"data":{"name":"d_b1"},"mark":{"type":"circle","size":9,"opacity":0.45},"encoding":{"x":{"field":"g","type":"nominal"},"y":{"field":"v","type":"quantitative"},"color":{"field":"g","type":"nominal","legend":null}}},
{"data":{"name":"s_b1"},"mark":{"type":"point","shape":"cross","angle":45,"filled":true,"size":26,"color":"#6a7d8c","opacity":0.85},"encoding":{"x":{"field":"g","type":"nominal"},"y":{"field":"mean","type":"quantitative"}}},
{"data":{"name":"k_b1"},"mark":{"type":"rule","color":"#9a9a9a","strokeWidth":1},"encoding":{"x":{"field":"a","type":"nominal"},"x2":{"field":"b"},"y":{"field":"y","type":"quantitative"}}},
{"data":{"name":"k_b1"},"transform":[{"filter":"datum.w==1"}],"mark":{"type":"text","baseline":"bottom","dy":-2,"fontSize":10,"color":"#444"},"encoding":{"x":{"field":"m","type":"nominal"},"y":{"field":"y","type":"quantitative"},"text":{"field":"t"}}},
{"data":{"name":"k_b1"},"transform":[{"filter":"datum.w==0"}],"mark":{"type":"text","baseline":"bottom","dy":-2,"fontSize":10,"color":"#444"},"encoding":{"x":{"field":"m","type":"nominal","bandPosition":0},"y":{"field":"y","type":"quantitative"},"text":{"field":"t"}}}
]},
{"width":90,"height":97,"layer":[
{"data":{"name":"s_b2"},"mark":{"type":"rule","strokeWidth":1},"encoding":{"x":{"field":"g","type":"nominal","scale":{"domain":["N","LG","HG"],"paddingInner":0,"paddingOuter":0.1667},"axis":{"title":"ClpXP complex","labelAngle":0,"labelFontSize":10.5,"titleFontSize":8.5,"ticks":false,"labelPadding":2,"titlePadding":2,"labelOverlap":false}},"y":{"field":"lo","type":"quantitative","scale":{"domain":[-3,3],"nice":false},"axis":{"values":[-3,-2,-1,0,1,2,3],"tickCount":30,"format":"d","labelExpr":"replace(datum.label,'−','-')","title":"","labelFontSize":11,"ticks":false,"grid":true,"labelPadding":2,"labelOverlap":false}},"y2":{"field":"hi"},"color":{"field":"g","type":"nominal","scale":{"domain":["N","LG","HG"],"range":["#7a9f8a","#e0a31a","#b8a0a0"]},"legend":null}}},
{"data":{"name":"s_b2"},"mark":{"type":"tick","size":9,"thickness":1},"encoding":{"x":{"field":"g","type":"nominal"},"y":{"field":"lo","type":"quantitative"},"color":{"field":"g","type":"nominal","legend":null}}},
{"data":{"name":"s_b2"},"mark":{"type":"tick","size":9,"thickness":1},"encoding":{"x":{"field":"g","type":"nominal"},"y":{"field":"hi","type":"quantitative"},"color":{"field":"g","type":"nominal","legend":null}}},
{"data":{"name":"s_b2"},"mark":{"type":"bar","width":22,"strokeWidth":1},"encoding":{"x":{"field":"g","type":"nominal"},"y":{"field":"q1","type":"quantitative"},"y2":{"field":"q3"},"fill":{"field":"g","type":"nominal","scale":{"domain":["N","LG","HG"],"range":["#8cc63f","#ffc000","#ff1414"]},"legend":null},"stroke":{"field":"g","type":"nominal","scale":{"domain":["N","LG","HG"],"range":["#6aa332","#e8a600","#e00000"]},"legend":null}}},
{"data":{"name":"s_b2"},"mark":{"type":"tick","size":21,"thickness":1,"color":"#ffffff","opacity":0.55},"encoding":{"x":{"field":"g","type":"nominal"},"y":{"field":"med","type":"quantitative"}}},
{"data":{"name":"d_b2"},"mark":{"type":"circle","size":9,"opacity":0.45},"encoding":{"x":{"field":"g","type":"nominal"},"y":{"field":"v","type":"quantitative"},"color":{"field":"g","type":"nominal","legend":null}}},
{"data":{"name":"s_b2"},"mark":{"type":"point","shape":"cross","angle":45,"filled":true,"size":26,"color":"#6a7d8c","opacity":0.85},"encoding":{"x":{"field":"g","type":"nominal"},"y":{"field":"mean","type":"quantitative"}}},
{"data":{"name":"k_b2"},"mark":{"type":"rule","color":"#9a9a9a","strokeWidth":1},"encoding":{"x":{"field":"a","type":"nominal"},"x2":{"field":"b"},"y":{"field":"y","type":"quantitative"}}},
{"data":{"name":"k_b2"},"transform":[{"filter":"datum.w==1"}],"mark":{"type":"text","baseline":"bottom","dy":-2,"fontSize":10,"color":"#444"},"encoding":{"x":{"field":"m","type":"nominal"},"y":{"field":"y","type":"quantitative"},"text":{"field":"t"}}},
{"data":{"name":"k_b2"},"transform":[{"filter":"datum.w==0"}],"mark":{"type":"text","baseline":"bottom","dy":-2,"fontSize":10,"color":"#444"},"encoding":{"x":{"field":"m","type":"nominal","bandPosition":0},"y":{"field":"y","type":"quantitative"},"text":{"field":"t"}}}
]}
],"spacing":38,"bounds":"flush"}
],"spacing":58,"bounds":"flush"},
{"vconcat":[
{"width":218,"height":173,"layer":[
{"data":{"name":"gc"},"mark":{"type":"circle","size":7,"color":"#a6a6a6","opacity":1},"encoding":{
"x":{"field":"x","type":"quantitative","scale":{"domain":[-1.2,1.2],"nice":false,"zero":false},"axis":{"values":[-1.2,-0.9,-0.6,-0.3,0,0.3,0.6,0.9,1.2],"tickCount":30,"format":".1~f","labelExpr":"replace(datum.label,'−','-')","title":"Log₂(HG/LG)","labelFontSize":9,"titleFontSize":13,"tickSize":3,"grid":true,"titlePadding":5,"labelOverlap":false}},
"y":{"field":"y","type":"quantitative","scale":{"domain":[0,4],"nice":false},"axis":{"values":[0,1,2,3,4],"tickCount":30,"format":"d","title":"-Log₁₀(P)","labelFontSize":9,"titleFontSize":13,"tickSize":3,"grid":true,"titlePadding":4,"labelOverlap":false}}}},
{"data":{"name":"cc"},"mark":{"type":"circle","size":9,"opacity":1},"encoding":{"x":{"field":"x","type":"quantitative"},"y":{"field":"y","type":"quantitative"},"color":{"field":"c","type":"nominal","scale":{"domain":["d","u"],"range":["#1fae5c","#e8202a"]},"legend":null}}},
{"data":{"name":"thr"},"mark":{"type":"rule","strokeDash":[3,3],"color":"#444","strokeWidth":1},"encoding":{"x":{"field":"x","type":"quantitative"},"y":{"datum":0,"type":"quantitative"},"y2":{"datum":4}}},
{"data":{"name":"an_c"},"transform":[{"filter":"datum.k=='q'"}],"mark":{"type":"rule","strokeDash":[3,3],"color":"#444","strokeWidth":1},"encoding":{"y":{"field":"y","type":"quantitative"},"x":{"datum":-1.2,"type":"quantitative"},"x2":{"datum":1.2}}},
{"data":{"name":"an_c"},"transform":[{"filter":"datum.k=='q'"}],"mark":{"type":"text","text":"q = 0.05","align":"right","baseline":"top","dx":-3,"dy":4,"fontStyle":"italic","fontWeight":"bold","fontSize":8.5,"color":"#222"},"encoding":{"y":{"field":"y","type":"quantitative"},"x":{"datum":1.2,"type":"quantitative"}}},
{"data":{"name":"an_c"},"transform":[{"filter":"datum.k=='box'"}],"mark":{"type":"rect","fill":"white","stroke":"#333","strokeWidth":1.2},"encoding":{"x":{"field":"x","type":"quantitative"},"x2":{"field":"x2"},"y":{"field":"y","type":"quantitative"},"y2":{"field":"y2"}}},
{"data":{"name":"an_c"},"transform":[{"filter":"datum.k=='title'"}],"mark":{"type":"text","fontSize":14,"fontWeight":"bold","color":"#111"},"encoding":{"x":{"field":"x","type":"quantitative"},"y":{"field":"y","type":"quantitative"},"text":{"field":"t"}}},
{"data":{"name":"an_c"},"transform":[{"filter":"datum.k=='lab'"}],"mark":{"type":"text","fontSize":11,"fontWeight":"bold"},"encoding":{"x":{"field":"x","type":"quantitative"},"y":{"field":"y","type":"quantitative"},"text":{"field":"t"},"color":{"field":"c","type":"nominal","legend":null}}},
{"data":{"name":"an_c"},"transform":[{"filter":"datum.k=='letter'"}],"mark":{"type":"text","fontSize":19,"fontWeight":"bold","color":"#000"},"encoding":{"x":{"field":"x","type":"quantitative"},"y":{"field":"y","type":"quantitative"},"text":{"field":"t"}}},
{"data":{"name":"ar_c"},"mark":{"type":"rule","strokeWidth":2,"color":"#111"},"encoding":{"x":{"field":"x","type":"quantitative"},"y":{"field":"y","type":"quantitative"},"x2":{"field":"x2"},"y2":{"field":"y2"}}},
{"data":{"name":"ar_c"},"transform":[{"filter":"datum.d=='down'"}],"mark":{"type":"point","shape":"triangle-down","filled":true,"size":45,"color":"#111","opacity":1},"encoding":{"x":{"field":"x2","type":"quantitative"},"y":{"field":"y2","type":"quantitative"}}},
{"data":{"name":"ar_c"},"transform":[{"filter":"datum.d=='ul'"}],"mark":{"type":"point","shape":"triangle-up","angle":315,"filled":true,"size":45,"color":"#111","opacity":1},"encoding":{"x":{"field":"x2","type":"quantitative"},"y":{"field":"y2","type":"quantitative"}}}
]},
{"hconcat":[
{"width":90,"height":97,"layer":[
{"data":{"name":"s_c1"},"mark":{"type":"rule","strokeWidth":1},"encoding":{"x":{"field":"g","type":"nominal","scale":{"domain":["N","LG","HG"],"paddingInner":0,"paddingOuter":0.1667},"axis":{"title":["Dysferlin-affixin","complex"],"titleLineHeight":10.5,"labelAngle":0,"labelFontSize":10.5,"titleFontSize":8.5,"ticks":false,"labelPadding":2,"titlePadding":2,"labelOverlap":false}},"y":{"field":"lo","type":"quantitative","scale":{"domain":[-3,3],"nice":false},"axis":{"values":[-3,-2,-1,0,1,2,3],"tickCount":30,"format":"d","labelExpr":"replace(datum.label,'−','-')","title":"Log₂(Ratio)","labelFontSize":11,"titleFontSize":13,"ticks":false,"grid":true,"labelPadding":2,"titlePadding":0,"labelOverlap":false}},"y2":{"field":"hi"},"color":{"field":"g","type":"nominal","scale":{"domain":["N","LG","HG"],"range":["#7a9f8a","#e0a31a","#b8a0a0"]},"legend":null}}},
{"data":{"name":"s_c1"},"mark":{"type":"tick","size":9,"thickness":1},"encoding":{"x":{"field":"g","type":"nominal"},"y":{"field":"lo","type":"quantitative"},"color":{"field":"g","type":"nominal","legend":null}}},
{"data":{"name":"s_c1"},"mark":{"type":"tick","size":9,"thickness":1},"encoding":{"x":{"field":"g","type":"nominal"},"y":{"field":"hi","type":"quantitative"},"color":{"field":"g","type":"nominal","legend":null}}},
{"data":{"name":"s_c1"},"mark":{"type":"bar","width":22,"strokeWidth":1},"encoding":{"x":{"field":"g","type":"nominal"},"y":{"field":"q1","type":"quantitative"},"y2":{"field":"q3"},"fill":{"field":"g","type":"nominal","scale":{"domain":["N","LG","HG"],"range":["#8cc63f","#ffc000","#ff1414"]},"legend":null},"stroke":{"field":"g","type":"nominal","scale":{"domain":["N","LG","HG"],"range":["#6aa332","#e8a600","#e00000"]},"legend":null}}},
{"data":{"name":"s_c1"},"mark":{"type":"tick","size":21,"thickness":1,"color":"#ffffff","opacity":0.55},"encoding":{"x":{"field":"g","type":"nominal"},"y":{"field":"med","type":"quantitative"}}},
{"data":{"name":"d_c1"},"mark":{"type":"circle","size":9,"opacity":0.45},"encoding":{"x":{"field":"g","type":"nominal"},"y":{"field":"v","type":"quantitative"},"color":{"field":"g","type":"nominal","legend":null}}},
{"data":{"name":"s_c1"},"mark":{"type":"point","shape":"cross","angle":45,"filled":true,"size":26,"color":"#6a7d8c","opacity":0.85},"encoding":{"x":{"field":"g","type":"nominal"},"y":{"field":"mean","type":"quantitative"}}},
{"data":{"name":"k_c1"},"mark":{"type":"rule","color":"#9a9a9a","strokeWidth":1},"encoding":{"x":{"field":"a","type":"nominal"},"x2":{"field":"b"},"y":{"field":"y","type":"quantitative"}}},
{"data":{"name":"k_c1"},"transform":[{"filter":"datum.w==1"}],"mark":{"type":"text","baseline":"bottom","dy":-2,"fontSize":10,"color":"#444"},"encoding":{"x":{"field":"m","type":"nominal"},"y":{"field":"y","type":"quantitative"},"text":{"field":"t"}}},
{"data":{"name":"k_c1"},"transform":[{"filter":"datum.w==0"}],"mark":{"type":"text","baseline":"bottom","dy":-2,"fontSize":10,"color":"#444"},"encoding":{"x":{"field":"m","type":"nominal","bandPosition":0},"y":{"field":"y","type":"quantitative"},"text":{"field":"t"}}}
]},
{"width":90,"height":97,"layer":[
{"data":{"name":"s_c2"},"mark":{"type":"rule","strokeWidth":1},"encoding":{"x":{"field":"g","type":"nominal","scale":{"domain":["N","LG","HG"],"paddingInner":0,"paddingOuter":0.1667},"axis":{"title":["PTEN-NHERF1-EGFR","complex"],"titleLineHeight":10.5,"labelAngle":0,"labelFontSize":10.5,"titleFontSize":8.5,"ticks":false,"labelPadding":2,"titlePadding":2,"labelOverlap":false}},"y":{"field":"lo","type":"quantitative","scale":{"domain":[-3,3],"nice":false},"axis":{"values":[-3,-2,-1,0,1,2,3],"tickCount":30,"format":"d","labelExpr":"replace(datum.label,'−','-')","title":"","labelFontSize":11,"ticks":false,"grid":true,"labelPadding":2,"labelOverlap":false}},"y2":{"field":"hi"},"color":{"field":"g","type":"nominal","scale":{"domain":["N","LG","HG"],"range":["#7a9f8a","#e0a31a","#b8a0a0"]},"legend":null}}},
{"data":{"name":"s_c2"},"mark":{"type":"tick","size":9,"thickness":1},"encoding":{"x":{"field":"g","type":"nominal"},"y":{"field":"lo","type":"quantitative"},"color":{"field":"g","type":"nominal","legend":null}}},
{"data":{"name":"s_c2"},"mark":{"type":"tick","size":9,"thickness":1},"encoding":{"x":{"field":"g","type":"nominal"},"y":{"field":"hi","type":"quantitative"},"color":{"field":"g","type":"nominal","legend":null}}},
{"data":{"name":"s_c2"},"mark":{"type":"bar","width":22,"strokeWidth":1},"encoding":{"x":{"field":"g","type":"nominal"},"y":{"field":"q1","type":"quantitative"},"y2":{"field":"q3"},"fill":{"field":"g","type":"nominal","scale":{"domain":["N","LG","HG"],"range":["#8cc63f","#ffc000","#ff1414"]},"legend":null},"stroke":{"field":"g","type":"nominal","scale":{"domain":["N","LG","HG"],"range":["#6aa332","#e8a600","#e00000"]},"legend":null}}},
{"data":{"name":"s_c2"},"mark":{"type":"tick","size":21,"thickness":1,"color":"#ffffff","opacity":0.55},"encoding":{"x":{"field":"g","type":"nominal"},"y":{"field":"med","type":"quantitative"}}},
{"data":{"name":"d_c2"},"mark":{"type":"circle","size":9,"opacity":0.45},"encoding":{"x":{"field":"g","type":"nominal"},"y":{"field":"v","type":"quantitative"},"color":{"field":"g","type":"nominal","legend":null}}},
{"data":{"name":"s_c2"},"mark":{"type":"point","shape":"cross","angle":45,"filled":true,"size":26,"color":"#6a7d8c","opacity":0.85},"encoding":{"x":{"field":"g","type":"nominal"},"y":{"field":"mean","type":"quantitative"}}},
{"data":{"name":"k_c2"},"mark":{"type":"rule","color":"#9a9a9a","strokeWidth":1},"encoding":{"x":{"field":"a","type":"nominal"},"x2":{"field":"b"},"y":{"field":"y","type":"quantitative"}}},
{"data":{"name":"k_c2"},"transform":[{"filter":"datum.w==1"}],"mark":{"type":"text","baseline":"bottom","dy":-2,"fontSize":10,"color":"#444"},"encoding":{"x":{"field":"m","type":"nominal"},"y":{"field":"y","type":"quantitative"},"text":{"field":"t"}}},
{"data":{"name":"k_c2"},"transform":[{"filter":"datum.w==0"}],"mark":{"type":"text","baseline":"bottom","dy":-2,"fontSize":10,"color":"#444"},"encoding":{"x":{"field":"m","type":"nominal","bandPosition":0},"y":{"field":"y","type":"quantitative"},"text":{"field":"t"}}}
]}
],"spacing":38,"bounds":"flush"}
],"spacing":58,"bounds":"flush"}
],"spacing":9}
]
}
